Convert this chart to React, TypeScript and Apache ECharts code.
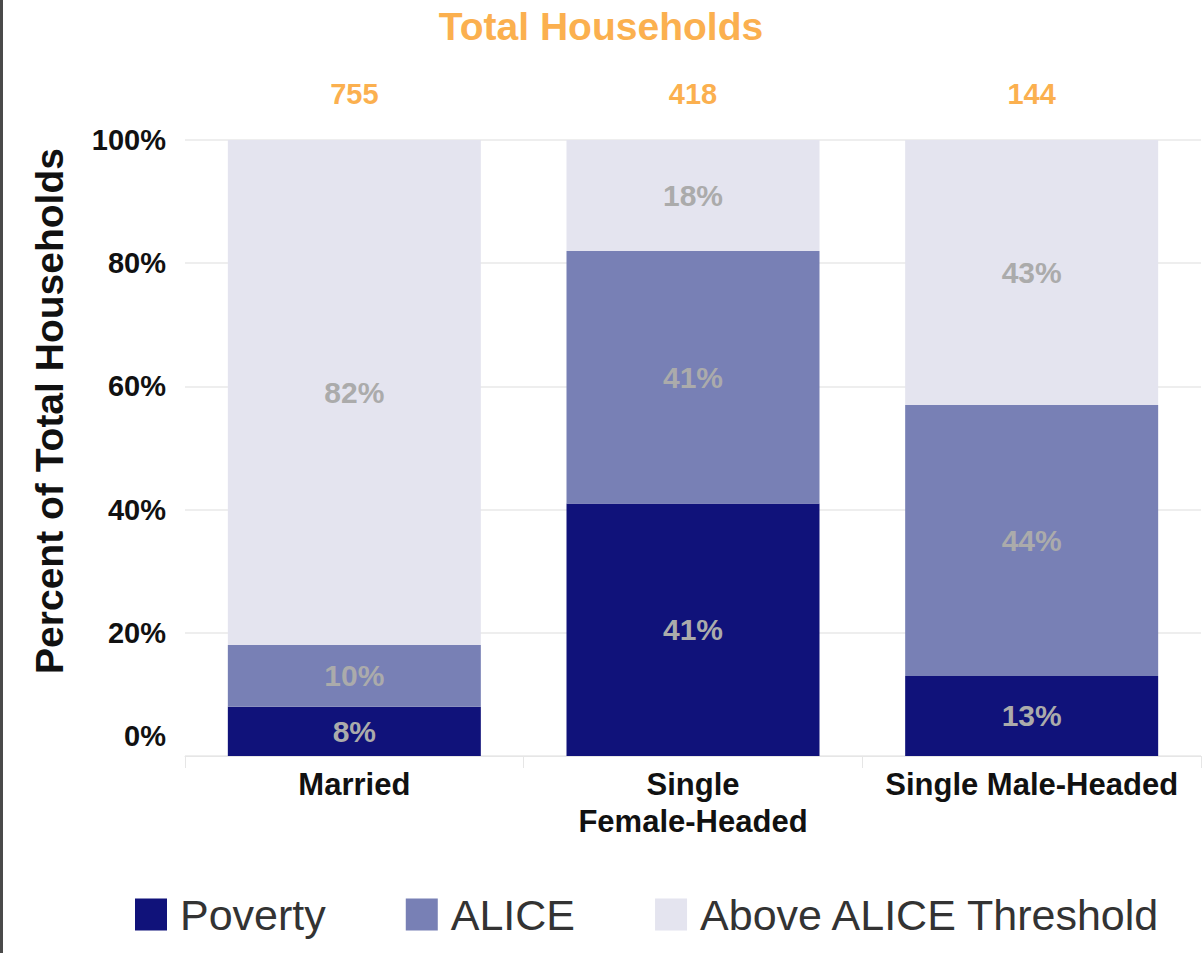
import React, { useEffect, useRef } from "react";
import * as echarts from "echarts";

const categories = ["Married", "Single\nFemale-Headed", "Single Male-Headed"];
const totals = ["755", "418", "144"];
const poverty = [8, 41, 13];
const alice = [10, 41, 44];
const aboveAlice = [82, 18, 43];
const yTicks = [0, 20, 40, 60, 80, 100];

const FONT = "'Liberation Sans', Arial, Helvetica, sans-serif";
const ORANGE = "#fbb04f";
const C_POV = "#10127a";
const C_ALICE = "#7880b5";
const C_ABOVE = "#e4e4ef";
const LABEL_GRAY = "#ababab";

export default function App() {
  const ref = useRef<HTMLDivElement>(null);
  useEffect(() => {
    if (!ref.current) return;
    const chart = echarts.init(ref.current, null, { renderer: "svg" });
    const barLabel = {
      show: true,
      position: "inside",
      formatter: "{c}%",
      color: LABEL_GRAY,
      fontSize: 30,
      fontWeight: "bold",
      fontFamily: FONT,
    };
    chart.setOption({
      animation: false,
      backgroundColor: "#ffffff",
      textStyle: { fontFamily: FONT },
      title: {
        text: "Total Households",
        left: "center",
        top: 2,
        textStyle: { color: ORANGE, fontSize: 39, fontWeight: "bold", fontFamily: FONT },
      },
      legend: {
        left: 130,
        top: 888,
        itemWidth: 32,
        itemHeight: 32,
        itemGap: 80,
        icon: "rect",
        textStyle: { fontSize: 43, color: "#333333", fontFamily: FONT, padding: [0, 0, 0, 8] },
        data: ["Poverty", "ALICE", "Above ALICE Threshold"],
      },
      grid: { left: 185, right: 1, top: 140, bottom: 197, containLabel: false },
      xAxis: [
        {
          type: "category",
          data: categories,
          position: "bottom",
          axisLine: { show: true, lineStyle: { color: "#e6e6e6" } },
          axisTick: { show: true, length: 12, lineStyle: { color: "#e6e6e6" } },
          axisLabel: {
            color: "#111111",
            fontSize: 31,
            fontWeight: "bold",
            lineHeight: 37,
            margin: 10,
            fontFamily: FONT,
            interval: 0,
          },
        },
        {
          type: "category",
          data: totals,
          position: "top",
          axisLine: { show: false },
          axisTick: { show: false },
          axisLabel: {
            color: ORANGE,
            fontSize: 29,
            fontWeight: "bold",
            margin: 32,
            fontFamily: FONT,
          },
        },
      ],
      yAxis: {
        type: "value",
        min: yTicks[0],
        max: yTicks[yTicks.length - 1],
        interval: yTicks[1] - yTicks[0],
        axisLine: { show: false },
        axisTick: { show: false },
        splitLine: { lineStyle: { color: "#eeeeee", width: 2 } },
        axisLabel: {
          margin: 19,
          color: "#111111",
          fontSize: 29,
          fontWeight: "bold",
          fontFamily: FONT,
          formatter: (v: number) => (v === 0 ? "{z|0%}" : v + "%"),
          rich: {
            z: {
              fontSize: 29,
              fontWeight: "bold",
              color: "#111111",
              fontFamily: FONT,
              padding: [0, 0, 40, 0],
            },
          },
        },
      },
      graphic: [
        {
          type: "rect",
          shape: { x: 0, y: 0, width: 3, height: 953 },
          style: { fill: "#4a4a4a" },
          silent: true,
        },
        {
          type: "text",
          x: 49,
          y: 411,
          rotation: Math.PI / 2,
          style: {
            text: "Percent of Total Households",
            fontSize: 39,
            fontWeight: "bold",
            fontFamily: FONT,
            fill: "#111111",
            align: "center",
            verticalAlign: "middle",
          },
        },
      ],
      series: [
        {
          name: "Poverty",
          type: "bar",
          stack: "total",
          data: poverty,
          barWidth: 253,
          itemStyle: { color: C_POV },
          label: barLabel,
        },
        {
          name: "ALICE",
          type: "bar",
          stack: "total",
          data: alice,
          barWidth: 253,
          itemStyle: { color: C_ALICE },
          label: barLabel,
        },
        {
          name: "Above ALICE Threshold",
          type: "bar",
          stack: "total",
          data: aboveAlice,
          barWidth: 253,
          itemStyle: { color: C_ABOVE },
          label: barLabel,
        },
      ],
    });
    return () => chart.dispose();
  }, []);
  return (
    <div
      ref={ref}
      style={{ position: "absolute", left: 0, top: 0, width: 1202, height: 953 }}
    />
  );
}
